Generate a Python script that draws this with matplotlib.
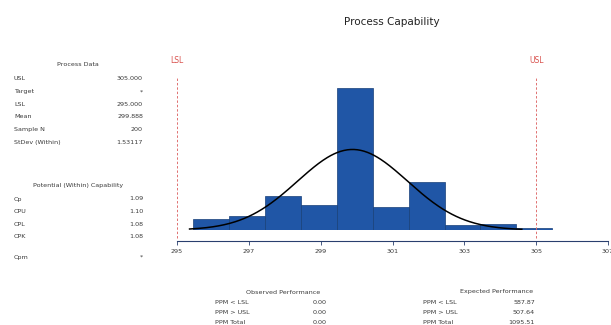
import numpy as np
import matplotlib
matplotlib.use("Agg")
import matplotlib.pyplot as plt

# --- data ---
bin_edges = [295.45, 296.45, 297.45, 298.45, 299.45, 300.45,
             301.45, 302.45, 303.45, 304.45, 305.45]
counts = [7, 9, 22, 16, 92, 15, 31, 3, 4, 1]

lsl, usl = 295.0, 305.0
mean, sigma, n = 299.888, 1.53117, 200

process_labels = ["USL", "Target", "LSL", "Mean", "Sample N", "StDev (Within)"]
process_values = ["305.000", "*", "295.000", "299.888", "200", "1.53117"]

cap_labels = ["Cp", "CPU", "CPL", "CPK"]
cap_values = ["1.09", "1.10", "1.08", "1.08"]

obs_labels = ["PPM < LSL", "PPM > USL", "PPM Total"]
obs_values = ["0.00", "0.00", "0.00"]
exp_values = ["587.87", "507.64", "1095.51"]

xticks = [295, 297, 299, 301, 303, 305, 307]

W, H = 611, 325
fig = plt.figure(figsize=(W / 100, H / 100), dpi=100)
txt = "#3a3a3a"
fs = 4.6

def px(x, y):
    return x / W, 1 - y / H

# --- histogram panel ---
ax = fig.add_axes([177 / W, 1 - 230 / H, (608 - 177) / W, (230 - 77) / H])
widths = np.diff(bin_edges)
ax.bar(bin_edges[:-1], counts, width=widths, align="edge",
       color="#2056a6", edgecolor="#173f78", linewidth=0.5)

xs = np.linspace(295.35, 304.6, 300)
pdf = n * widths[0] * np.exp(-0.5 * ((xs - mean) / sigma) ** 2) / (sigma * np.sqrt(2 * np.pi))
ax.plot(xs, pdf, color="black", linewidth=1.1)

ax.set_xlim(295, 307)
ax.set_ylim(0, 99)
for lim, name in [(lsl, "LSL"), (usl, "USL")]:
    ax.axvline(lim, ymin=-8 / 153, ymax=1.0, color="#e07070", linestyle=(0, (2.5, 2)),
               linewidth=0.7, clip_on=False)
    ax.text(lim, 1.11, name, transform=ax.get_xaxis_transform(), ha="center",
            va="center", color="#d9534f", fontsize=5.5)

for s in ["top", "right", "left"]:
    ax.spines[s].set_visible(False)
ax.spines["bottom"].set_position(("outward", 8))
ax.spines["bottom"].set_color("#2a3f6e")
ax.spines["bottom"].set_linewidth(0.8)
ax.set_yticks([])
ax.set_xticks(xticks)
ax.set_xticklabels([str(t) for t in xticks], fontsize=fs, color=txt)
ax.tick_params(axis="x", direction="out", length=3, width=0.6, colors="#2a3f6e",
               labelcolor=txt, pad=3)

fig.text(*px(392, 22), "Process Capability", ha="center", va="center",
         fontsize=7.5, color="#222222")

# --- left tables ---
fig.text(*px(78, 65), "Process Data", ha="center", va="center", fontsize=fs, color=txt)
for i, (lab, val) in enumerate(zip(process_labels, process_values)):
    y = 79 + i * 12.6
    fig.text(*px(14, y), lab, ha="left", va="center", fontsize=fs, color=txt)
    fig.text(*px(143, y), val, ha="right", va="center", fontsize=fs, color=txt)

fig.text(*px(78, 185), "Potential (Within) Capability", ha="center", va="center",
         fontsize=fs, color=txt)
for i, (lab, val) in enumerate(zip(cap_labels, cap_values)):
    y = 199 + i * 12.5
    fig.text(*px(14, y), lab, ha="left", va="center", fontsize=fs, color=txt)
    fig.text(*px(143, y), val, ha="right", va="center", fontsize=fs, color=txt)
fig.text(*px(14, 257), "Cpm", ha="left", va="center", fontsize=fs, color=txt)
fig.text(*px(143, 257), "*", ha="right", va="center", fontsize=fs, color=txt)

# --- bottom tables ---
fig.text(*px(283, 292), "Observed Performance", ha="center", va="center",
         fontsize=fs, color=txt)
fig.text(*px(497, 292), "Expected Performance", ha="center", va="center",
         fontsize=fs, color=txt)
for i, lab in enumerate(obs_labels):
    y = 302 + i * 10
    fig.text(*px(215, y), lab, ha="left", va="center", fontsize=fs, color=txt)
    fig.text(*px(327, y), obs_values[i], ha="right", va="center", fontsize=fs, color=txt)
    fig.text(*px(423, y), lab, ha="left", va="center", fontsize=fs, color=txt)
    fig.text(*px(535, y), exp_values[i], ha="right", va="center", fontsize=fs, color=txt)

fig.savefig("out.png", dpi=100)
